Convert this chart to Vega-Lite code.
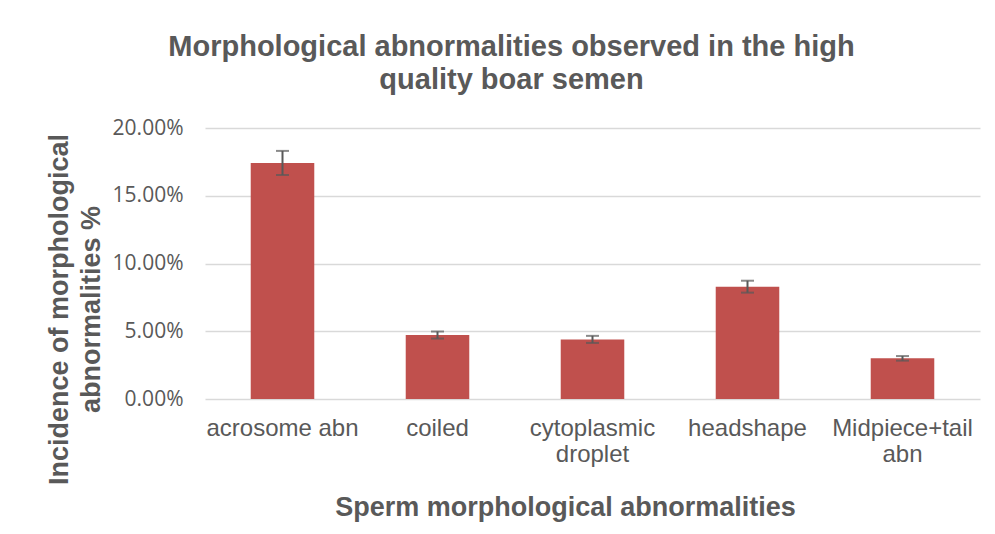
{
  "$schema": "https://vega.github.io/schema/vega-lite/v6.json",
  "width": 775,
  "height": 271,
  "autosize": "none",
  "padding": {"left": 205, "top": 128, "right": 15, "bottom": 135},
  "background": "white",
  "title": {
    "text": ["Morphological abnormalities observed in the high", "quality boar semen"],
    "font": "Liberation Sans",
    "fontSize": 29,
    "fontWeight": "bold",
    "color": "#595959",
    "anchor": "middle",
    "frame": "group",
    "dx": -81,
    "lineHeight": 33,
    "offset": 22
  },
  "data": {
    "values": [
      {"category": "acrosome abn", "value": 0.1742, "err": 0.0089},
      {"category": "coiled", "value": 0.0472, "err": 0.0026},
      {"category": "cytoplasmic droplet", "value": 0.0440, "err": 0.0026},
      {"category": "headshape", "value": 0.0829, "err": 0.0044},
      {"category": "Midpiece+tail abn", "value": 0.0300, "err": 0.0017}
    ]
  },
  "encoding": {
    "x": {
      "field": "category",
      "type": "nominal",
      "sort": null,
      "scale": {"paddingInner": 0.59, "paddingOuter": 0.295},
      "axis": {
        "title": "Sperm morphological abnormalities",
        "titleFont": "Liberation Sans",
        "titleFontSize": 27,
        "titleFontWeight": "bold",
        "titleColor": "#595959",
        "titleX": 360,
        "titleY": 116,
        "titleBaseline": "alphabetic",
        "titleAnchor": "middle",
        "labelFont": "Liberation Sans",
        "labelFontSize": 24,
        "labelColor": "#595959",
        "labelAngle": 0,
        "labelBaseline": "alphabetic",
        "labelPadding": 36,
        "labelLineHeight": 26,
        "labelExpr": "datum.value == 'cytoplasmic droplet' ? ['cytoplasmic', 'droplet'] : datum.value == 'Midpiece+tail abn' ? ['Midpiece+tail', 'abn'] : datum.value",
        "ticks": false,
        "domain": false,
        "grid": false
      }
    },
    "y": {
      "field": "value",
      "type": "quantitative",
      "scale": {"domain": [0, 0.2]},
      "axis": {
        "values": [0, 0.05, 0.1, 0.15, 0.2],
        "format": ".2%",
        "title": ["Incidence of morphological", "abnormalities %"],
        "titleFont": "Liberation Sans",
        "titleFontSize": 27,
        "titleFontWeight": "bold",
        "titleColor": "#595959",
        "titleAngle": -90,
        "titleX": -138,
        "titleY": 181,
        "titleBaseline": "alphabetic",
        "titleAnchor": "middle",
        "titleAlign": "center",
        "titleLineHeight": 32,
        "labelFont": "Open Sans",
        "labelFontSize": 21,
        "labelColor": "#595959",
        "labelPadding": 22,
        "ticks": false,
        "domain": false,
        "grid": true,
        "gridColor": "#d9d9d9",
        "gridWidth": 1.5
      }
    }
  },
  "layer": [
    {
      "mark": {"type": "bar", "color": "#c0504d"}
    },
    {
      "mark": {
        "type": "errorbar",
        "color": "#595959",
        "ticks": {"size": 13, "thickness": 2, "color": "#595959"},
        "rule": {"strokeWidth": 2, "color": "#595959"}
      },
      "encoding": {
        "yError": {"field": "err"}
      }
    }
  ],
  "config": {"view": {"stroke": null}}
}
